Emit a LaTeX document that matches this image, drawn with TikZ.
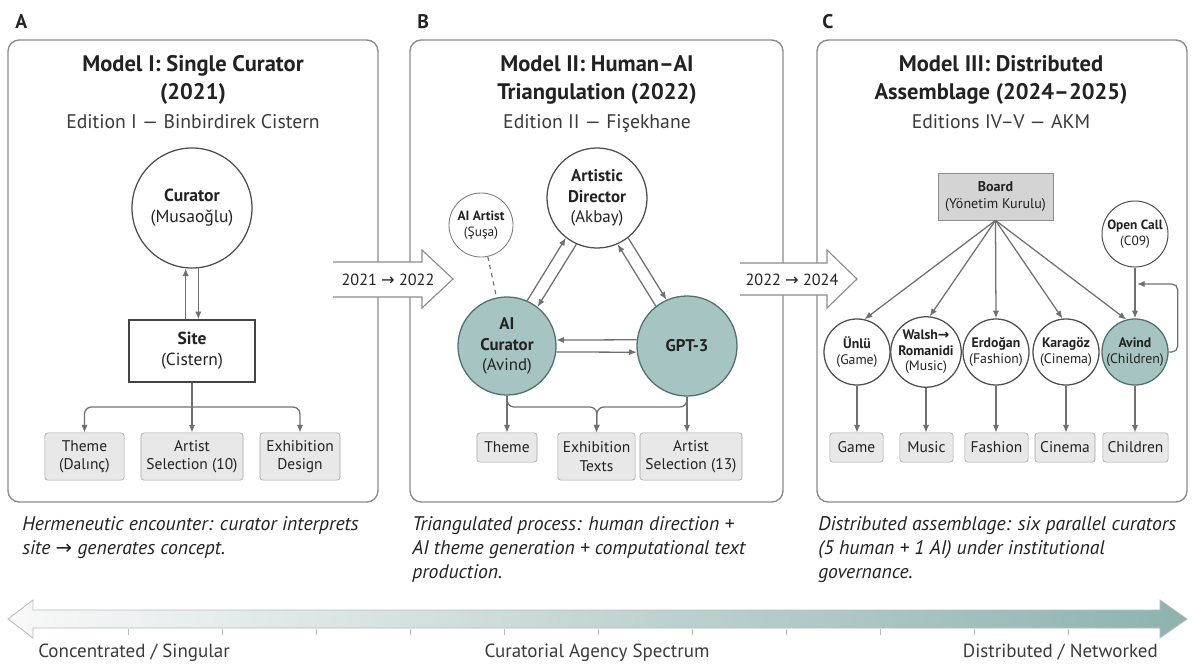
\documentclass[tikz,border=0pt]{standalone}
\usepackage{fontspec}
\setmainfont{PT Sans}
\newfontfamily\symfont{DejaVu Sans}
\usetikzlibrary{arrows.meta}
\definecolor{ink}{HTML}{222222}
\definecolor{subink}{HTML}{3A3A3A}
\definecolor{linegray}{HTML}{707070}
\definecolor{framegray}{HTML}{8C8C8C}
\definecolor{boxfill}{HTML}{E8E8E8}
\definecolor{boardfill}{HTML}{D4D4D4}
\definecolor{tealfill}{HTML}{A6C4C1}
\definecolor{tealline}{HTML}{4F6F6D}
\definecolor{spectrumteal}{HTML}{8DB3AF}
\newcommand{\rarr}{{\symfont →}}
\tikzset{
  panel/.style={draw=framegray, line width=1pt, rounded corners=8pt},
  arr/.style={draw=linegray, line width=0.9pt, -{Latex[length=5.5pt,width=4.5pt]}},
  agent/.style={circle, draw=ink!80, line width=0.9pt, fill=white, inner sep=0pt, align=center, text=ink},
  aiagent/.style={agent, fill=tealfill, draw=tealline},
  sitebox/.style={draw=ink!85, line width=0.9pt, fill=white, align=center, inner sep=0pt, text=ink, font=\fontsize{12.4}{15}\selectfont},
  outbox/.style={draw=framegray!80, fill=boxfill, rounded corners=2pt, align=center, inner sep=0pt, text=ink, font=\fontsize{11}{13}\selectfont},
  paneltitle/.style={font=\bfseries\fontsize{16}{20}\selectfont, align=center, anchor=north, inner sep=0pt, text=ink},
  edition/.style={font=\fontsize{14}{16}\selectfont, anchor=base, inner sep=0pt, text=subink},
  panelletter/.style={font=\bfseries\fontsize{14}{16}\selectfont, anchor=base west, inner sep=0pt, text=ink},
  capt/.style={font=\itshape\fontsize{14}{17}\selectfont, align=left, anchor=north west, inner sep=0pt, text=ink},
  yearbox/.style={font=\fontsize{11.5}{13}\selectfont, inner sep=0pt, text=ink},
  spectick/.style={draw=framegray!60, line width=0.6pt},
  speclabel/.style={font=\fontsize{13.5}{16}\selectfont, inner sep=0pt, text=subink}
}
\begin{document}
\begin{tikzpicture}[x=0.025cm, y=-0.025cm]
\useasboundingbox (0,0) rectangle (1192,664);
% panel A
\node[panelletter] (labA) at (15,28) {A};
\draw[panel] (8,40) rectangle (378,502);
\node[paneltitle] (titA) at (193,55) {Model I: Single Curator\\(2021)};
\node[edition] (edA) at (193,128) {Edition I — Binbirdirek Cistern};
\node[agent, minimum size=3cm, font=\fontsize{12.5}{15}\selectfont] (cur) at (192,208) {\textbf{Curator}\\(Musaoğlu)};
\node[sitebox, minimum width=3.15cm, minimum height=1.55cm] (site) at (192,351) {\textbf{Site}\\(Cistern)};
\draw[arr] (site.north -| cur.264) -- (cur.264);
\draw[arr] (cur.276) -- (cur.276 |- site.north);
\node[outbox, minimum width=1.98cm, minimum height=1.18cm] (themeA) at (84.5,456.5) {Theme\\(Dalınç)};
\node[outbox, minimum width=2.55cm, minimum height=1.18cm] (selA) at (192,456.5) {Artist\\Selection (10)};
\node[outbox, minimum width=2cm, minimum height=1.18cm] (designA) at (300,456.5) {Exhibition\\Design};
\coordinate (splitA) at (192,407);
\draw[arr] (site.south) -- (selA.north);
\draw[arr, rounded corners=5pt] (splitA) -| (themeA.north);
\draw[arr, rounded corners=5pt] (splitA) -| (designA.north);
\node[capt] (capA) at (22,516) {Hermeneutic encounter: curator interprets\\site \rarr{} generates concept.};
% panel B
\node[panelletter] (labB) at (417,28) {B};
\draw[panel] (410,40) rectangle (783,502);
\node[paneltitle] (titB) at (597,55) {Model II: Human–AI\\Triangulation (2022)};
\node[edition] (edB) at (597,128) {Edition II — Fişekhane};
\node[agent, minimum size=2.5cm, font=\fontsize{12}{14.5}\selectfont] (dir) at (597,198) {\textbf{Artistic}\\\textbf{Director}\\(Akbay)};
\node[agent, minimum size=1.6cm, line width=0.6pt, draw=ink!60, font=\fontsize{9.5}{11.5}\selectfont] (aiart) at (481,225) {\textbf{AI Artist}\\(Şuşa)};
\node[aiagent, minimum size=2.45cm, font=\fontsize{12}{14.5}\selectfont] (aic) at (507,346) {\textbf{AI}\\\textbf{Curator}\\(Avind)};
\node[aiagent, minimum size=2.5cm, font=\bfseries\fontsize{12}{14}\selectfont] (gpt) at (687,346) {GPT-3};
\draw[draw=linegray, line width=0.8pt, dashed] (aiart) -- (aic);
\draw[arr] (aic.66) -- (dir.232);
\draw[arr] (dir.246) -- (aic.52);
\draw[arr] (gpt.128) -- (dir.294);
\draw[arr] (dir.308) -- (gpt.114);
\draw[arr] (gpt.173) -- (aic.7);
\draw[arr] (aic.353) -- (gpt.187);
\node[outbox, minimum width=1.5cm, minimum height=0.73cm] (themeB) at (507,447.5) {Theme};
\node[outbox, minimum width=1.93cm, minimum height=1.18cm] (textB) at (596.5,456.5) {Exhibition\\Texts};
\node[outbox, minimum width=2.55cm, minimum height=1.18cm] (selB) at (691,456.5) {Artist\\Selection (13)};
\coordinate (splitB) at (597,407);
\draw[arr] (aic.south) -- (themeB.north);
\draw[arr] (gpt.south) -- (gpt.south |- selB.north);
\draw[arr, rounded corners=5pt] (aic.south) |- (splitB) -- (textB.north);
\draw[arr, rounded corners=5pt] (gpt.south) |- (splitB) -- (textB.north);
\node[capt] (capB) at (412,516) {Triangulated process: human direction +\\AI theme generation + computational text\\production.};
% panel C
\node[panelletter] (labC) at (822,28) {C};
\draw[panel] (817,40) rectangle (1187,502);
\node[paneltitle] (titC) at (1001,55) {Model III: Distributed\\Assemblage (2024–2025)};
\node[edition] (edC) at (1001,128) {Editions IV–V — AKM};
\node[draw=framegray, fill=boardfill, align=center, inner sep=0pt, minimum width=2.88cm, minimum height=1.18cm, text=ink, font=\fontsize{10}{12.5}\selectfont] (board) at (995.5,196.5) {\textbf{Board}\\(Yönetim Kurulu)};
\node[agent, minimum size=1.65cm, line width=0.7pt, font=\fontsize{9.5}{11.5}\selectfont] (opencall) at (1135,234) {\textbf{Open Call}\\(C09)};
\begin{scope}[every node/.append style={minimum size=1.65cm, font=\fontsize{9.8}{11}\selectfont}]
\node[agent] (unlu) at (857,352) {\textbf{Ünlü}\\(Game)};
\node[agent] (walsh) at (926,352) {\textbf{Walsh\rarr}\\\textbf{Romanidi}\\(Music)};
\node[agent] (erdogan) at (996,352) {\textbf{Erdoğan}\\(Fashion)};
\node[agent] (karagoz) at (1066,352) {\textbf{Karagöz}\\(Cinema)};
\node[aiagent] (avindc) at (1135,352) {\textbf{Avind}\\(Children)};
\end{scope}
\node[outbox, minimum width=1.33cm, minimum height=0.73cm] (outunlu) at (856.5,447.5) {Game};
\node[outbox, minimum width=1.33cm, minimum height=0.73cm] (outwalsh) at (926.5,447.5) {Music};
\node[outbox, minimum width=1.58cm, minimum height=0.73cm] (outerdogan) at (996.5,447.5) {Fashion};
\node[outbox, minimum width=1.5cm, minimum height=0.73cm] (outkaragoz) at (1065,447.5) {Cinema};
\node[outbox, minimum width=1.63cm, minimum height=0.73cm] (outavindc) at (1135.5,447.5) {Children};
\foreach \n/\a in {unlu/77, walsh/84, erdogan/90, karagoz/96, avindc/105}
  \draw[arr] (board.south) -- (\n.\a);
\foreach \n in {unlu, walsh, erdogan, karagoz, avindc}
  \draw[arr] (\n.south) -- (\n.south |- out\n.north);
\draw[arr] (opencall) -- (avindc);
\coordinate (loopin) at (1137,284);
\draw[arr, rounded corners=4pt] (avindc.east) -- ++(9,0) |- (loopin);
\node[capt] (capC) at (818,516) {Distributed assemblage: six parallel curators\\(5 human + 1 AI) under institutional\\governance.};
% transitions
\path[fill=white] (333,262) -- (422,262) -- (422,250) -- (453,279) -- (422,308) -- (422,297) -- (333,297) -- cycle;
\draw[draw=framegray, line width=0.8pt] (333,262) -- (422,262) -- (422,250) -- (453,279) -- (422,308) -- (422,297) -- (333,297);
\node[yearbox] (stepAB) at (388,280) {2021 \rarr{} 2022};
\path[fill=white] (740,263) -- (827,263) -- (827,250) -- (857,279) -- (827,308) -- (827,295) -- (740,295) -- cycle;
\draw[draw=framegray, line width=0.8pt] (740,263) -- (827,263) -- (827,250) -- (857,279) -- (827,308) -- (827,295) -- (740,295);
\node[yearbox] (stepBC) at (792,280) {2022 \rarr{} 2024};
% spectrum
\path[draw=framegray!60, line width=0.6pt, left color=gray!5, right color=spectrumteal] (8,619) -- (33,600) -- (33,610) -- (1160,610) -- (1160,600) -- (1187,619) -- (1160,638) -- (1160,628) -- (33,628) -- (33,638) -- cycle;
\foreach \x in {128,222,...,1068}
  \draw[spectick] (\x,629) -- (\x,635);
\node[speclabel, anchor=base west] (lowend) at (38,657) {Concentrated / Singular};
\node[speclabel, anchor=base] (specname) at (597,657) {Curatorial Agency Spectrum};
\node[speclabel, anchor=base east] (highend) at (1158,657) {Distributed / Networked};
\end{tikzpicture}
\end{document}
